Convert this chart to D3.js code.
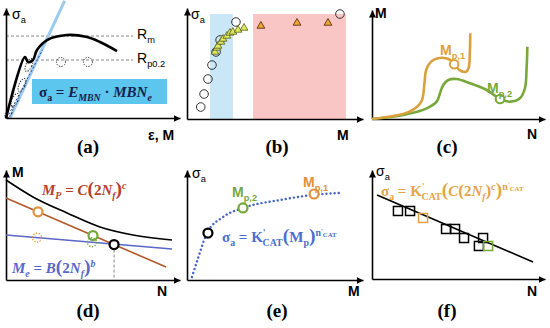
<!DOCTYPE html>
<html>
<head>
<meta charset="utf-8">
<script src="https://cdn.jsdelivr.net/npm/d3@7"></script>
<style>
  body { margin: 0; background: #fff; }
  svg { display: block; }
</style>
</head>
<body>
<div id="fig"></div>
<script>
// ---- panel (a): stress-strain / MBN curve (schematic units 0..100)
var aCurve = [[0,0],[10.9,55.5],[12.6,50.9],[15.5,52.7],[17.8,61.8],[23.6,70.9],[35.1,75.5],[46.6,73.6],[54,69.1],[63.8,60.9]];
var aRm = 74.5, aRp = 52.7, aRefEnd = 73;
var aElastic = [[2.3,0],[33.7,106.4]];
var aElasticDash = [[0.5,0],[21,62]];
var aEllipses = [[13.2,48.2],[9.2,30],[5.2,16.4],[1.7,5.5]];
var aDotted = [[31.6,50.9],[47.1,50.9]];

// ---- panel (b): sigma_a vs M
var bBlueBand = [13.1, 26.1], bRedBand = [37.5, 90.3], bBandTop = 94.6;
var bCircles = [[7.8,10.8],[9.7,22.5],[11.9,36],[14.2,48.6],[16.5,60.4],[18.8,71.2],[27.8,87.4],[86.9,94.6]];
var bTriYellow = [[15.9,60.4],[17,64],[17.6,65.8],[19.3,69.4],[20.5,72.1],[22.7,74.8],[24.4,77.5],[26.1,78.4],[29,80.2],[32.4,82]];
var bTriOrange = [[42,83.8],[62.5,86.5],[80.1,86.5]];

// ---- panel (c): M vs N
var cOrange = [[0,0],[21.7,6.7],[28.5,15.9],[30.3,32.7],[31.3,45],[34.2,52.6],[38,55.7],[42.8,55.7],[46.6,52.6],[50.4,45],[54.3,43.4],[55.8,46.5],[56.6,63.3],[56.8,78.6]];
var cGreen = [[0,0],[18.1,3.7],[31.6,9.8],[37.4,15.9],[39.3,23.6],[41.2,31.2],[44.1,35.8],[48.9,36.7],[56.6,32.8],[66.3,26.6],[74,18.3],[79.8,15.9],[85.5,19],[88.4,28.2],[89.4,48],[89.8,66.3]];
var cMp1 = [47.5, 50.2], cMp2 = [74, 18.3];

// ---- panel (d): M vs N (Coffin-Manson style)
var dTotal = [[0,90.9],[15.5,75.5],[35.1,60.9],[54,48.2],[73,40.9],[95.4,36.4]];
var dPlastic = [[0,74.5],[92,11.8]];
var dElastic = [[0,40.9],[95.4,28.2]];
var dPts = [{u:18.4,v:62,c:"#e0913a",dot:false},{u:50,v:40.4,c:"#74a83a",dot:false},{u:62.1,v:32.2,c:"#000",dot:false},
            {u:17.8,v:38.5,c:"#e0a040",dot:true},{u:49.4,v:34.3,c:"#74a83a",dot:true}];

// ---- panel (e): sigma_a vs Mp
var eCurve = [[2.8,2.7],[6.3,20],[11.4,42.7],[20.5,57.3],[31.8,65.5],[52.8,72.7],[71.6,77.3],[86.9,79.1]];
var ePts = [{u:11.9,v:42.7,c:"#000"},{u:31.8,v:65.5,c:"#74a83a"},{u:72.2,v:78.2,c:"#e0913a"}];

// ---- panel (f): sigma_a vs N
var fLine = [[2.9,77.1],[93.1,15.6]];
var fSquares = [{u:15,v:62.4,c:"#000"},{u:22,v:62.4,c:"#000"},{u:29.5,v:56,c:"#e0a040"},{u:42.8,v:45.9,c:"#000"},
                {u:48,v:45.9,c:"#000"},{u:53.2,v:37.6,c:"#000"},{u:64.2,v:37.6,c:"#000"},{u:61.8,v:30.3,c:"#000"},{u:67.1,v:30.3,c:"#74a83a"}];

var SANS = "'Liberation Sans', Arial, sans-serif";
var SERIF = "'Liberation Serif', 'DejaVu Serif', serif";

var svg = d3.select("#fig").append("svg").attr("width", 550).attr("height", 328);
svg.append("rect").attr("width", 550).attr("height", 328).attr("fill", "#fff");

svg.append("defs").append("marker")
   .attr("id", "arr").attr("viewBox", "-7 -3.5 7 7")
   .attr("refX", 0).attr("refY", 0)
   .attr("markerWidth", 7).attr("markerHeight", 7)
   .attr("markerUnits", "userSpaceOnUse").attr("orient", "auto")
   .append("path").attr("d", "M-7,-3.5L0,0L-7,3.5Z").attr("fill", "#000");

function frame(ox, oy, w, h) {
  return {
    x: d3.scaleLinear().domain([0, 100]).range([ox, ox + w]),
    y: d3.scaleLinear().domain([0, 100]).range([oy, oy - h])
  };
}

function axes(p) {
  var gx = svg.append("g").attr("transform", "translate(0," + p.y(0) + ")")
              .call(d3.axisBottom(p.x).ticks(0).tickSizeOuter(0));
  var gy = svg.append("g").attr("transform", "translate(" + p.x(0) + ",0)")
              .call(d3.axisLeft(p.y).ticks(0).tickSizeOuter(0));
  [gx, gy].forEach(function(g) {
    g.select(".domain").attr("stroke", "#000").attr("stroke-width", 1.6).attr("marker-end", "url(#arr)");
  });
}

// text with sub/superscripts
function rich(x, y, parts, o) {
  var size = o.size;
  var t = svg.append("text").attr("x", x).attr("y", y)
             .attr("font-family", o.font).attr("font-size", size)
             .attr("font-weight", o.weight || "bold").attr("fill", o.color);
  var off = 0;
  parts.forEach(function(p) {
    var lvl = p.lv !== undefined ? p.lv * size : p.sub ? 0.28 * size : p.sup ? -0.42 * size : 0;
    var s = t.append("tspan").text(p.t).attr("dy", lvl - off);
    off = lvl;
    if (p.sub || p.sup) s.attr("font-size", size * 0.66);
    if (p.sc) s.attr("font-size", size * p.sc);
    if (p.i) s.attr("font-style", "italic");
    if (p.dx) s.attr("dx", p.dx);
  });
  return t;
}

function sigmaLabel(x, y) {
  rich(x, y, [{t:"σ"},{t:"a",sub:1}], {size:14, font:SANS, color:"#000", weight:"normal"});
}
function axLabel(x, y, s) {
  svg.append("text").attr("x", x).attr("y", y).attr("font-family", SANS).attr("font-size", 14)
     .attr("font-weight", "bold").text(s);
}
function panelTag(x, y, s) {
  svg.append("text").attr("x", x).attr("y", y).attr("text-anchor", "middle")
     .attr("font-family", SERIF).attr("font-size", 19).attr("font-weight", "bold").text(s);
}

var line = d3.line().x(function(d) { return P.x(d[0]); }).y(function(d) { return P.y(d[1]); });
var P;

// ================= (a)
P = frame(6, 118, 174, 110);
svg.append("line").attr("x1", P.x(0)).attr("x2", P.x(aRefEnd)).attr("y1", P.y(aRm)).attr("y2", P.y(aRm))
   .attr("stroke", "#888").attr("stroke-dasharray", "3,2").attr("stroke-width", 1);
svg.append("line").attr("x1", P.x(0)).attr("x2", P.x(aRefEnd)).attr("y1", P.y(aRp)).attr("y2", P.y(aRp))
   .attr("stroke", "#888").attr("stroke-dasharray", "3,2").attr("stroke-width", 1);
svg.append("path").attr("d", line(aElastic)).attr("stroke", "#9ccbf0").attr("stroke-width", 3).attr("fill", "none");
svg.append("path").attr("d", line(aElasticDash)).attr("stroke", "#2c4a9a").attr("stroke-width", 1)
   .attr("stroke-dasharray", "2,2").attr("fill", "none");
svg.selectAll(".aell").data(aEllipses).enter().append("ellipse").attr("class", "aell")
   .attr("transform", function(d) { return "translate(" + P.x(d[0]) + "," + P.y(d[1]) + ") rotate(25)"; })
   .attr("rx", 3).attr("ry", 7).attr("fill", "none").attr("stroke", "#222")
   .attr("stroke-width", 1).attr("stroke-dasharray", "1.2,1.4");
svg.selectAll(".adot").data(aDotted).enter().append("circle").attr("class", "adot")
   .attr("cx", function(d) { return P.x(d[0]); }).attr("cy", function(d) { return P.y(d[1]); })
   .attr("r", 4.5).attr("fill", "none").attr("stroke", "#222").attr("stroke-width", 1).attr("stroke-dasharray", "1.2,1.4");
svg.append("path").attr("d", line.curve(d3.curveCatmullRom)(aCurve)).attr("stroke", "#000").attr("stroke-width", 2.6)
   .attr("fill", "none").attr("stroke-linejoin", "round");
line.curve(d3.curveLinear);
axes(P);
svg.append("rect").attr("x", 32).attr("y", 79).attr("width", 135).attr("height", 25).attr("fill", "#5cc6ee");
rich(39, 97, [{t:"σ"},{t:"a",sub:1},{t:" = "},{t:"E",i:1},{t:"MBN",sub:1,i:1},{t:" · "},{t:"MBN",i:1},{t:"e",sub:1,i:1}],
     {size:15, font:SERIF, color:"#15234d"});
sigmaLabel(12, 19);
rich(137, 39, [{t:"R"},{t:"m",sub:1}], {size:14, font:SANS, color:"#000", weight:"normal"});
rich(137, 63, [{t:"R"},{t:"p0.2",sub:1}], {size:14, font:SANS, color:"#000", weight:"normal"});
axLabel(148, 140, "ε, M");
panelTag(88, 153, "(a)");

// ================= (b)
P = frame(187, 119, 176, 111);
svg.append("rect").attr("x", P.x(bBlueBand[0])).attr("y", P.y(bBandTop))
   .attr("width", P.x(bBlueBand[1]) - P.x(bBlueBand[0])).attr("height", P.y(0) - P.y(bBandTop)).attr("fill", "#c9e7f6");
svg.append("rect").attr("x", P.x(bRedBand[0])).attr("y", P.y(bBandTop))
   .attr("width", P.x(bRedBand[1]) - P.x(bRedBand[0])).attr("height", P.y(0) - P.y(bBandTop)).attr("fill", "#f9c5c5");
axes(P);
svg.selectAll(".bc").data(bCircles).enter().append("circle").attr("class", "bc")
   .attr("cx", function(d) { return P.x(d[0]); }).attr("cy", function(d) { return P.y(d[1]); })
   .attr("r", 4.3).attr("fill", "none").attr("stroke", "#333").attr("stroke-width", 1);
var tri = d3.symbol().type(d3.symbolTriangle).size(26);
svg.selectAll(".bty").data(bTriYellow).enter().append("path").attr("class", "bty")
   .attr("transform", function(d) { return "translate(" + P.x(d[0]) + "," + P.y(d[1]) + ")"; })
   .attr("d", tri).attr("fill", "#dcec5c").attr("stroke", "#5a5a20").attr("stroke-width", 0.8);
svg.selectAll(".bto").data(bTriOrange).enter().append("path").attr("class", "bto")
   .attr("transform", function(d) { return "translate(" + P.x(d[0]) + "," + P.y(d[1]) + ")"; })
   .attr("d", tri).attr("fill", "#f2a634").attr("stroke", "#5a3210").attr("stroke-width", 0.9);
sigmaLabel(191, 19);
axLabel(337, 140, "M");
panelTag(277, 153, "(b)");

// ================= (c)
P = frame(372, 119, 173, 109);
axes(P);
line.curve(d3.curveCatmullRom);
svg.append("path").attr("d", line(cGreen)).attr("stroke", "#78a83b").attr("stroke-width", 2.6).attr("fill", "none");
svg.append("path").attr("d", line(cOrange)).attr("stroke", "#daa03c").attr("stroke-width", 2.6).attr("fill", "none");
line.curve(d3.curveLinear);
svg.append("circle").attr("cx", P.x(cMp1[0])).attr("cy", P.y(cMp1[1])).attr("r", 4.3)
   .attr("fill", "#fff").attr("stroke", "#daa03c").attr("stroke-width", 2);
svg.append("circle").attr("cx", P.x(cMp2[0])).attr("cy", P.y(cMp2[1])).attr("r", 4.3)
   .attr("fill", "#fff").attr("stroke", "#78a83b").attr("stroke-width", 2);
rich(440, 55, [{t:"M"},{t:"p,1",sub:1}], {size:14, font:SANS, color:"#e0a040"});
rich(487, 93, [{t:"M"},{t:"p,2",sub:1}], {size:14, font:SANS, color:"#78a83b"});
axLabel(375, 18, "M");
axLabel(527, 139, "N");
panelTag(447, 153, "(c)");

// ================= (d)
P = frame(6, 280, 174, 110);
axes(P);
svg.append("line").attr("x1", P.x(dPts[2].u)).attr("x2", P.x(dPts[2].u)).attr("y1", P.y(dPts[2].v)).attr("y2", P.y(0))
   .attr("stroke", "#888").attr("stroke-dasharray", "3,2").attr("stroke-width", 1);
svg.append("path").attr("d", line.curve(d3.curveMonotoneX)(dTotal)).attr("stroke", "#000").attr("stroke-width", 1.6).attr("fill", "none");
line.curve(d3.curveLinear);
svg.append("path").attr("d", line(dElastic)).attr("stroke", "#5a66c8").attr("stroke-width", 1.5).attr("fill", "none");
svg.append("path").attr("d", line(dPlastic)).attr("stroke", "#b5582a").attr("stroke-width", 1.6).attr("fill", "none");
svg.selectAll(".dp").data(dPts).enter().append("circle").attr("class", "dp")
   .attr("cx", function(d) { return P.x(d.u); }).attr("cy", function(d) { return P.y(d.v); })
   .attr("r", 4.5).attr("fill", function(d) { return d.dot ? "none" : "#fff"; })
   .attr("stroke", function(d) { return d.c; })
   .attr("stroke-width", function(d) { return d.dot ? 1.4 : 2.2; })
   .attr("stroke-dasharray", function(d) { return d.dot ? "1.3,1.5" : null; });
rich(42, 195, [{t:"M",i:1},{t:"P",sub:1,i:1},{t:" = "},{t:"C",i:1},{t:"(",sc:1.3},{t:"2"},{t:"N",i:1},{t:"f",sub:1,i:1},{t:")",sc:1.3},{t:"c",sup:1,i:1}],
     {size:15, font:SERIF, color:"#b5402a"});
rich(12, 273, [{t:"M",i:1},{t:"e",sub:1,i:1},{t:" = "},{t:"B",i:1},{t:"(",sc:1.3},{t:"2"},{t:"N",i:1},{t:"f",sub:1,i:1},{t:")",sc:1.3},{t:"b",sup:1,i:1}],
     {size:15, font:SERIF, color:"#5a66c8"});
axLabel(12, 177, "M");
axLabel(157, 296, "N");
panelTag(88, 317, "(d)");

// ================= (e)
P = frame(187, 280, 176, 110);
axes(P);
svg.append("path").attr("d", line.curve(d3.curveMonotoneX)(eCurve)).attr("stroke", "#4565c5").attr("stroke-width", 2.4)
   .attr("stroke-dasharray", "0.1,4").attr("stroke-linecap", "round").attr("fill", "none");
line.curve(d3.curveLinear);
svg.selectAll(".ep").data(ePts).enter().append("circle").attr("class", "ep")
   .attr("cx", function(d) { return P.x(d.u); }).attr("cy", function(d) { return P.y(d.v); })
   .attr("r", 4.5).attr("fill", "#fff").attr("stroke", function(d) { return d.c; }).attr("stroke-width", 2.2);
rich(232, 197, [{t:"M"},{t:"p,2",sub:1}], {size:14, font:SANS, color:"#78a83b"});
rich(303, 187, [{t:"M"},{t:"p,1",sub:1}], {size:14, font:SANS, color:"#e0913a"});
rich(222, 242, [{t:"σ"},{t:"a",sub:1},{t:" = K"},{t:"'",sup:1},{t:"CAT",sub:1,dx:-3},{t:"(",sc:1.3},{t:"M"},{t:"p",sub:1},{t:")",sc:1.3},
                {t:"n",sup:1},{t:"'",lv:-0.62,sc:0.45},{t:"CAT",lv:-0.32,sc:0.45}],
     {size:15, font:SERIF, color:"#4a6fcf"});
sigmaLabel(192, 178);
axLabel(348, 296, "M");
panelTag(277, 317, "(e)");

// ================= (f)
P = frame(372, 279, 173, 109);
axes(P);
svg.append("path").attr("d", line(fLine)).attr("stroke", "#000").attr("stroke-width", 1.6).attr("fill", "none");
svg.selectAll(".fs").data(fSquares).enter().append("rect").attr("class", "fs")
   .attr("x", function(d) { return P.x(d.u) - 4.5; }).attr("y", function(d) { return P.y(d.v) - 4.5; })
   .attr("width", 9).attr("height", 9).attr("fill", "none")
   .attr("stroke", function(d) { return d.c; }).attr("stroke-width", 1.5);
rich(381, 196, [{t:"σ"},{t:"a",sub:1},{t:" = K"},{t:"'",sup:1},{t:"CAT",sub:1,dx:-3},{t:"(",sc:1.3},{t:"C",i:1},{t:"(",sc:1.15},{t:"2"},
                {t:"N",i:1},{t:"f",sub:1,i:1},{t:")",sc:1.15},{t:"c",sup:1,i:1},{t:")",sc:1.3},
                {t:"n",sup:1},{t:"'",lv:-0.62,sc:0.45},{t:"CAT",lv:-0.32,sc:0.45}],
     {size:15, font:SERIF, color:"#e4a449"});
sigmaLabel(376, 176);
axLabel(527, 296, "N");
panelTag(447, 317, "(f)");
</script>
</body>
</html>
